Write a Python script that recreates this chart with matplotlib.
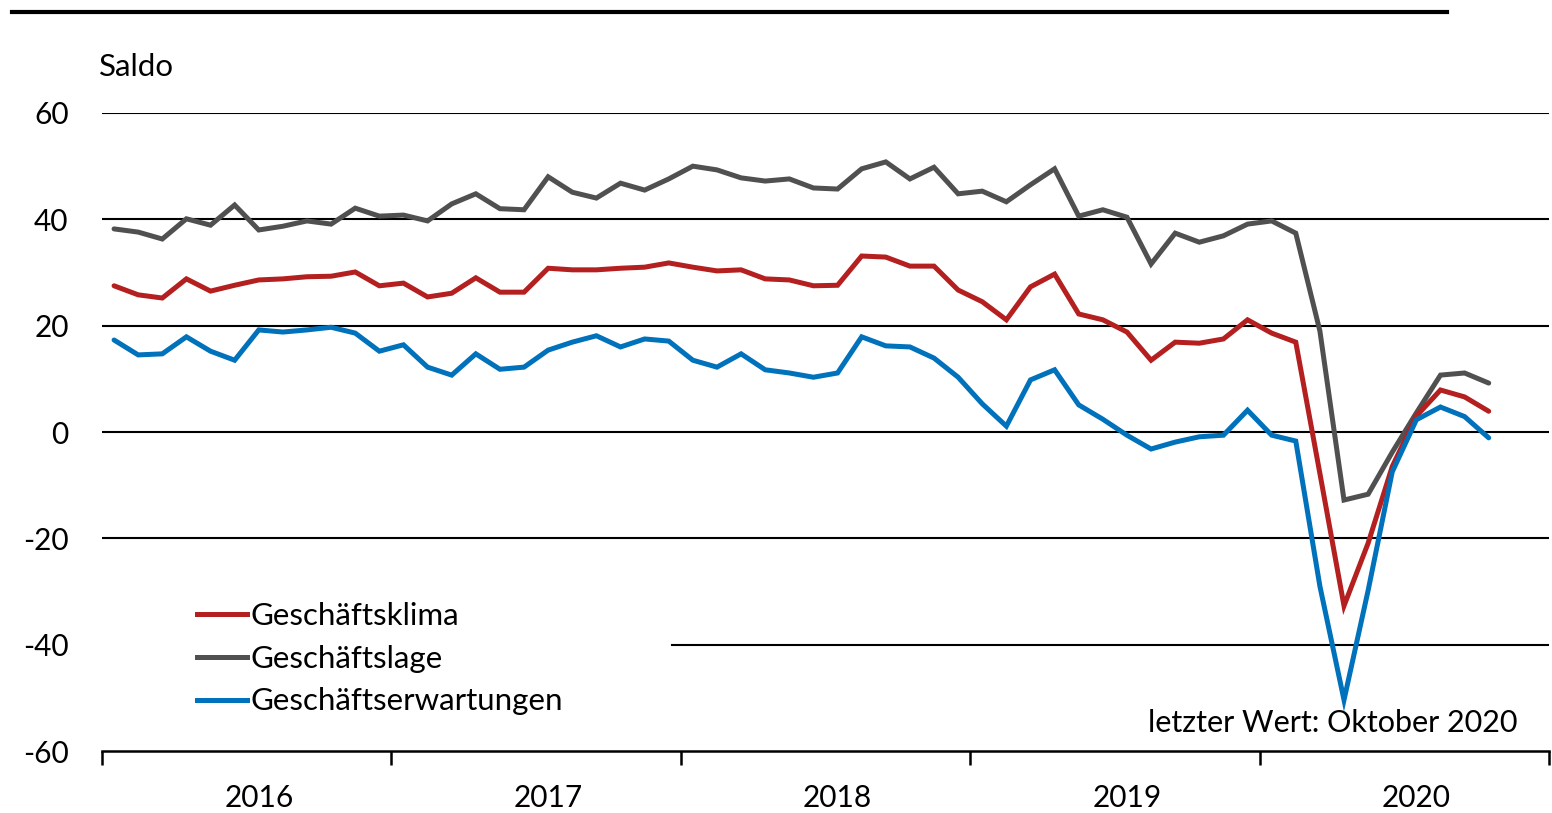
import numpy as np
import matplotlib
matplotlib.use('Agg')
import matplotlib.pyplot as plt
from matplotlib.lines import Line2D

plt.rcParams['font.family'] = ['Lato', 'DejaVu Sans']

# monthly values Jan 2016 .. Oct 2020
klima = [27.5, 25.8, 25.2, 28.8, 26.5, 27.6, 28.6, 28.8, 29.2, 29.3, 30.1, 27.5,
         28.0, 25.4, 26.1, 29.0, 26.3, 26.3, 30.8, 30.5, 30.5, 30.8, 31.0, 31.8,
         31.0, 30.3, 30.5, 28.8, 28.6, 27.5, 27.6, 33.1, 32.9, 31.2, 31.2, 26.7,
         24.5, 21.1, 27.3, 29.7, 22.2, 21.1, 18.8, 13.5, 16.9, 16.7, 17.5, 21.1,
         18.6, 16.9, -7.8, -32.7, -20.9, -6.5, 3.0, 7.9, 6.6, 3.9]
lage = [38.2, 37.6, 36.3, 40.1, 38.9, 42.7, 38.0, 38.7, 39.7, 39.1, 42.1, 40.6,
        40.8, 39.7, 42.9, 44.8, 42.0, 41.8, 48.0, 45.1, 44.0, 46.8, 45.5, 47.6,
        50.0, 49.3, 47.8, 47.2, 47.6, 45.9, 45.7, 49.5, 50.8, 47.6, 49.8, 44.8,
        45.3, 43.3, 46.5, 49.5, 40.6, 41.8, 40.4, 31.6, 37.4, 35.7, 36.9, 39.1,
        39.7, 37.4, 19.0, -12.8, -11.7, -3.8, 3.6, 10.7, 11.1, 9.2]
erwartungen = [17.3, 14.5, 14.7, 17.9, 15.2, 13.5, 19.2, 18.8, 19.2, 19.7, 18.6, 15.2,
               16.4, 12.2, 10.7, 14.7, 11.8, 12.2, 15.4, 16.9, 18.1, 16.0, 17.5, 17.1,
               13.5, 12.2, 14.7, 11.7, 11.1, 10.3, 11.1, 17.9, 16.2, 16.0, 13.9, 10.3,
               5.3, 1.1, 9.8, 11.7, 5.1, 2.4, -0.6, -3.2, -1.9, -0.9, -0.6, 4.1,
               -0.6, -1.7, -29.0, -50.4, -29.8, -7.5, 2.3, 4.7, 2.9, -1.1]
years = ['2016', '2017', '2018', '2019', '2020']
yticks = [60, 40, 20, 0, -20, -40, -60]

c_red = '#B41F1F'
c_gray = '#505050'
c_blue = '#0071BB'

fig = plt.figure(figsize=(15.52, 8.13), dpi=100)
ax = fig.add_axes([102/1552, 62/813, 1447/1552, 638/813])

x = np.arange(len(klima))

# grid lines
for v in yticks[:-1]:
    if v == -40:
        ax.axhline(v, xmin=(672-102)/1447, color='black', lw=1.5, zorder=1)
    else:
        ax.axhline(v, color='black', lw=1.5, zorder=1)

ax.plot(x, lage, color=c_gray, lw=3.6, solid_joinstyle='miter', solid_capstyle='round', zorder=3)
ax.plot(x, klima, color=c_red, lw=3.6, solid_joinstyle='miter', solid_capstyle='round', zorder=4)
ax.plot(x, erwartungen, color=c_blue, lw=3.6, solid_joinstyle='miter', solid_capstyle='round', zorder=5)

ax.set_xlim(-0.5, 59.5)
ax.set_ylim(-60, 60)
for s in ['top', 'right', 'left']:
    ax.spines[s].set_visible(False)
ax.spines['bottom'].set_linewidth(1.8)

ax.set_yticks(yticks)
ax.set_yticklabels([str(v) for v in yticks], fontsize=21.5)
ax.tick_params(axis='y', length=0, pad=24)

ax.set_xticks([-0.5 + 12*k for k in range(6)])
ax.set_xticklabels([])
ax.tick_params(axis='x', which='major', direction='out', length=10, width=1.8)
ax.set_xticks([6 + 12*k for k in range(5)], minor=True)
ax.set_xticklabels(years, minor=True, fontsize=21.5)
ax.tick_params(axis='x', which='minor', length=0, pad=24)

ax.text(-0.002, 1.072, 'Saldo', transform=ax.transAxes, fontsize=22.5, va='center', ha='left')
ax.text(58.2, -54.8, 'letzter Wert: Oktober 2020', fontsize=22, ha='right', va='center')

handles = [Line2D([], [], color=c_red, lw=3.6),
           Line2D([], [], color=c_gray, lw=3.6),
           Line2D([], [], color=c_blue, lw=3.6)]
leg = ax.legend(handles, ['Geschäftsklima', 'Geschäftslage', 'Geschäftserwartungen'],
                loc='upper left', bbox_to_anchor=(0.057, 0.253), frameon=False,
                fontsize=22.5, handlelength=1.6, handletextpad=0.1, labelspacing=0.47,
                borderaxespad=0)

fig.add_artist(Line2D([12/1552, 1447/1552], [1-12/813, 1-12/813], color='black', lw=3))

fig.savefig('out.png', dpi=100)
